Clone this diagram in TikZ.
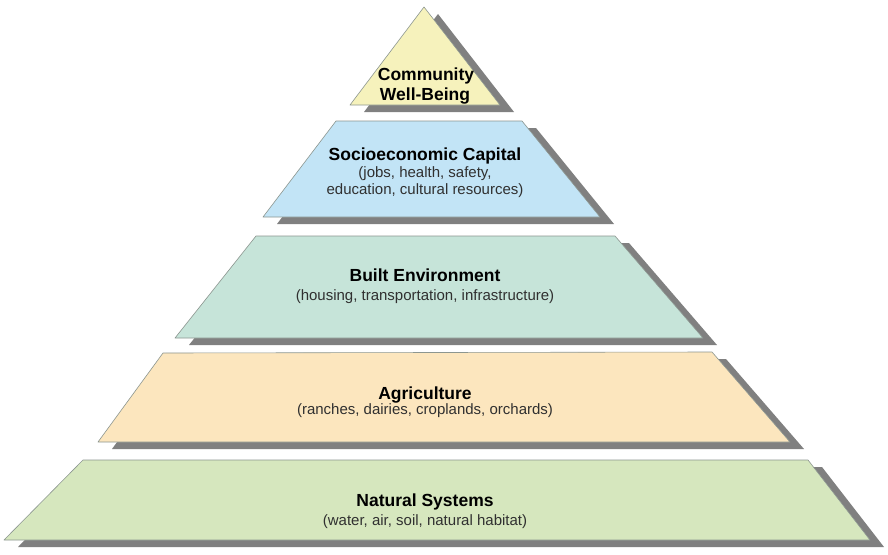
\documentclass[tikz,border=0pt]{standalone}
\usepackage{fontspec}
\setmainfont{Liberation Sans}
\definecolor{shadowgray}{HTML}{808080}
\definecolor{edgegray}{HTML}{8C9690}
\definecolor{cyellow}{HTML}{F6F2BC}
\definecolor{cblue}{HTML}{C2E4F6}
\definecolor{cmint}{HTML}{C6E4D9}
\definecolor{cpeach}{HTML}{FCE6BE}
\definecolor{cgreen}{HTML}{D6E7BE}
\definecolor{subtext}{HTML}{303030}
\tikzset{
  layer/.style={draw=edgegray, line width=0.6pt, line join=round},
  shadowlayer/.style={fill=shadowgray, draw=none},
  titletext/.style={anchor=base, inner sep=0pt, font=\fontsize{17.5}{20}\selectfont\bfseries, text=black},
  subtitletext/.style={anchor=base, inner sep=0pt, font=\fontsize{15}{17}\selectfont, text=subtext},
}
\begin{document}
\begin{tikzpicture}[x=1pt,y=-1pt]
\useasboundingbox (0,0) rectangle (888,554);
\fill[white] (0,0) rectangle (888,554);
% shadows
\begin{scope}[shift={(14,7)}]
\fill[shadowlayer] (350,105) -- (424,7) -- (500,105) -- cycle;
\fill[shadowlayer] (336,121) -- (522,121) -- (600,217) -- (263,217) -- cycle;
\fill[shadowlayer] (256,236) -- (615,236) -- (703,338) -- (175,338) -- cycle;
\fill[shadowlayer] (163,353) -- (712,352) -- (790,442) -- (98,442) -- cycle;
\fill[shadowlayer] (83,460) -- (808,460) -- (870,540) -- (4,540) -- cycle;
\end{scope}
% layers
\filldraw[layer, fill=cyellow] (350,105) -- (424,7) -- (500,105) -- cycle;
\filldraw[layer, fill=cblue] (336,121) -- (522,121) -- (600,217) -- (263,217) -- cycle;
\filldraw[layer, fill=cmint] (256,236) -- (615,236) -- (703,338) -- (175,338) -- cycle;
\filldraw[layer, fill=cpeach] (163,353) -- (712,352) -- (790,442) -- (98,442) -- cycle;
\filldraw[layer, fill=cgreen] (83,460) -- (808,460) -- (870,540) -- (4,540) -- cycle;
% texts
\node[titletext] (t1a) at (426,80) {Community};
\node[titletext] (t1b) at (425,100) {Well-Being};
\node[titletext] (t2) at (425,160) {Socioeconomic Capital};
\node[subtitletext] (t2a) at (425,177) {(jobs, health, safety,};
\node[subtitletext] (t2b) at (425,194) {education, cultural resources)};
\node[titletext] (t3) at (425,281) {Built Environment};
\node[subtitletext] (t3a) at (425,300) {(housing, transportation, infrastructure)};
\node[titletext] (t4) at (425,399) {Agriculture};
\node[subtitletext] (t4a) at (425,414) {(ranches, dairies, croplands, orchards)};
\node[titletext] (t5) at (425,506) {Natural Systems};
\node[subtitletext] (t5a) at (425,525) {(water, air, soil, natural habitat)};
\end{tikzpicture}
\end{document}
